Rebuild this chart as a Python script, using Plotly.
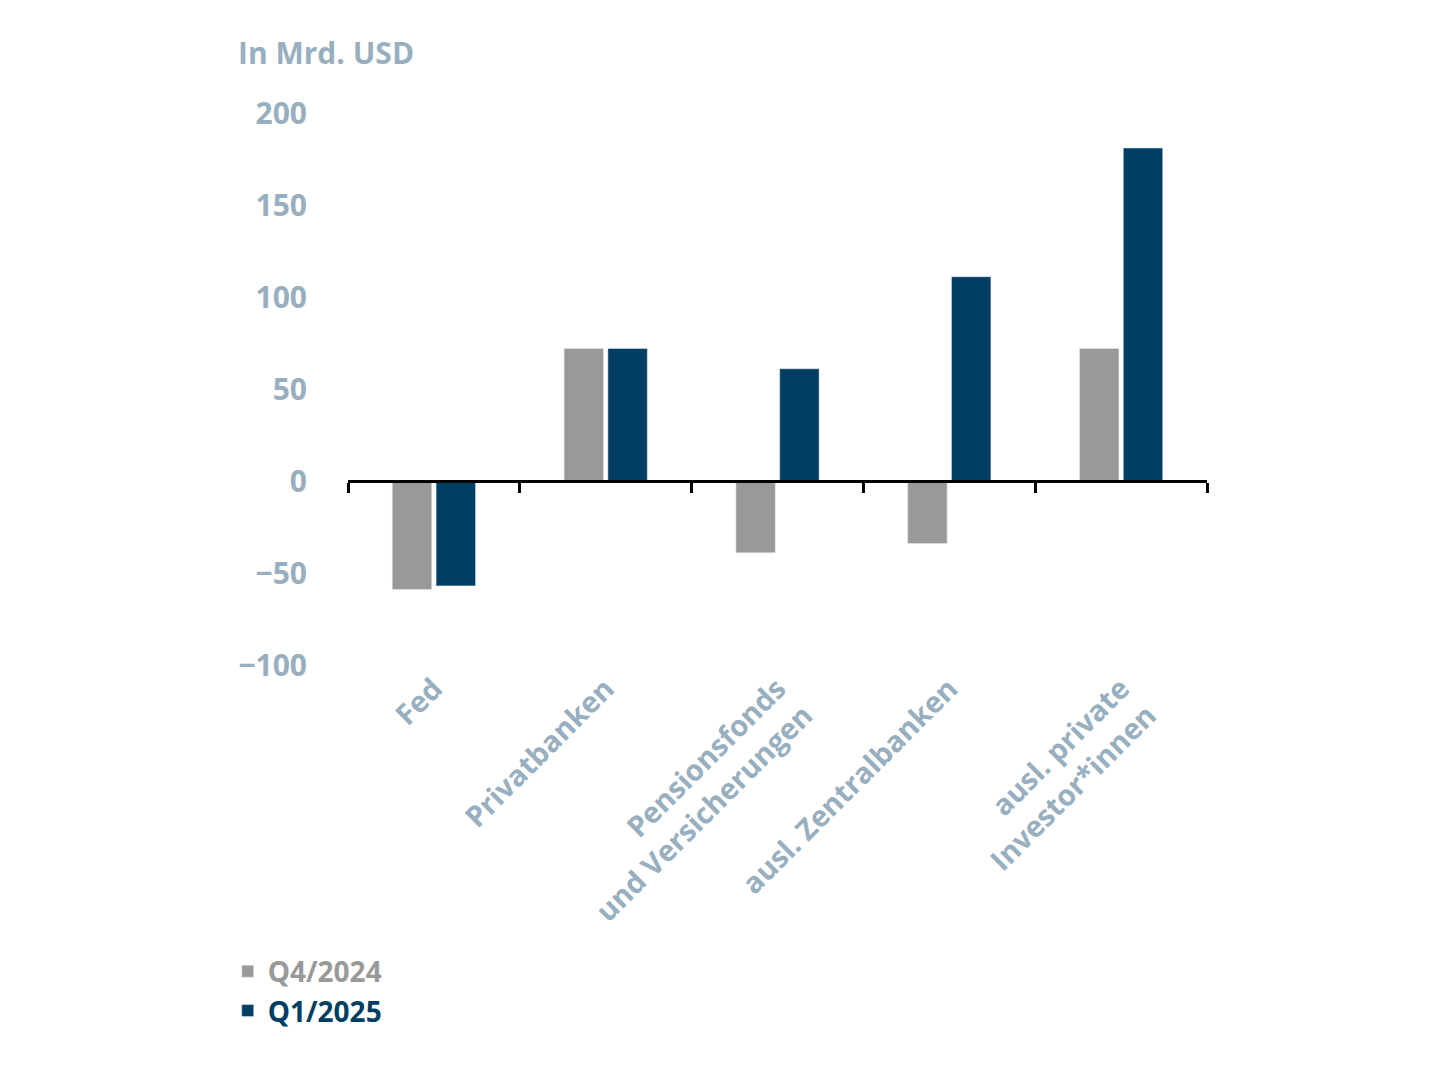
import plotly.graph_objects as go

categories = ["Fed", "Privatbanken", "Pensionsfonds<br>und Versicherungen", "ausl. Zentralbanken", "ausl. private<br>Investor*innen"]
q4_2024 = [-59, 72, -39, -34, 72]
q1_2025 = [-57, 72, 61, 111, 181]
series_names = ["Q4/2024", "Q1/2025"]
yticks = [-100, -50, 0, 50, 100, 150, 200]

GRAY = "#999999"
BLUE = "#003F63"
LABEL = "#98AFC0"
FONT = "Open Sans"

fig = go.Figure()
fig.add_bar(x=categories, y=q4_2024, name=f"<span style='color:{GRAY}'>{series_names[0]}</span>", marker_color=GRAY)
fig.add_bar(x=categories, y=q1_2025, name=f"<span style='color:{BLUE}'>{series_names[1]}</span>", marker_color=BLUE)
fig.add_scatter(x=categories, y=[0]*len(categories), xaxis="x2", mode="markers",
                marker=dict(opacity=0), showlegend=False, hoverinfo="skip")

fig.update_layout(
    width=1430, height=1072,
    paper_bgcolor="white", plot_bgcolor="white",
    margin=dict(l=340, r=231, t=105, b=415),
    barmode="group", bargap=0.49, bargroupgap=0.1,
    font=dict(family=FONT, color=LABEL, size=30),
    xaxis=dict(tickangle=-45, showline=False, ticks="", showgrid=False,
               tickfont=dict(size=29, color=LABEL, family=FONT, weight="bold")),
    xaxis2=dict(matches="x", overlaying="x", anchor="free", position=1/3,
                showline=True, linecolor="black", linewidth=3,
                ticks="outside", tickson="boundaries", ticklen=10, tickwidth=3, tickcolor="black",
                showticklabels=False, showgrid=False),
    yaxis=dict(range=[-100, 200], tickvals=yticks,
               ticktext=[("\u2212" + str(-v)) if v < 0 else str(v) for v in yticks],
               showgrid=False, zeroline=False, ticks="", ticklabelstandoff=40,
               tickfont=dict(size=30, color=LABEL, family=FONT, weight="bold")),
    legend=dict(x=-0.14, y=-0.51, xanchor="left", yanchor="top",
                font=dict(size=28, family=FONT, weight="bold"), tracegroupgap=32,
                itemwidth=30),
    annotations=[dict(text="In Mrd. USD", xref="paper", yref="paper", x=-0.13, y=1.11,
                      xanchor="left", yanchor="middle", showarrow=False,
                      font=dict(size=30, color=LABEL, family=FONT, weight="bold"))],
)
fig.write_html("out.html")
